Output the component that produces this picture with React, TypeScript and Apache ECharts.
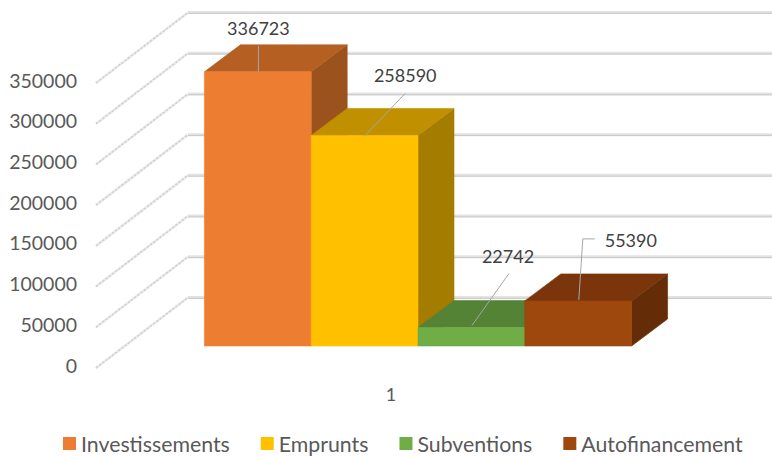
import React, { useEffect, useRef } from "react";
import * as echarts from "echarts";

const categories = ["1"];
const seriesNames = ["Investissements", "Emprunts", "Subventions", "Autofinancement"];
const seriesValues = [336723, 258590, 22742, 55390];
const yTicks = [0, 50000, 100000, 150000, 200000, 250000, 300000, 350000];

const frontColors = ["#ed7d31", "#ffc000", "#70ad47", "#9e480e"];
const topColors = ["#b55f22", "#c09000", "#558335", "#7a360a"];
const sideColors = ["#9c521d", "#a47c00", "#4a722e", "#652d07"];

// Leader-line and label placement, relative to the bar's top-front-left corner.
const labelOffsets = [
  { text: [54, -44], line: [[54, -26], [54, 0]] },
  { text: [94, -60], line: [[94, -42], [53, 1]] },
  { text: [90, -71], line: [[91, -54], [54, -2]] },
  { text: [106, -61], line: [[70, -62], [58, -62], [54, -1]] },
];

const WALL_DX = 92;
const WALL_DY = -70.5;
const BAR_DX = 36;
const BAR_DY = -27;
const BAR_SHIFT_X = 27;
const BAR_SHIFT_Y = -22;
const BAR_FRACTION = 0.181;

const poly = (points: number[][], fill: string, stroke?: string) => ({
  type: "polygon",
  shape: { points },
  style: { fill, stroke: stroke ?? fill, lineWidth: 0.6 },
});

const wallSeries = {
  type: "custom",
  name: "walls",
  silent: true,
  legendHoverLink: false,
  data: yTicks.map((t) => [0, t]),
  encode: { x: 0, y: 1 },
  z: 1,
  renderItem: (params: any, api: any) => {
    const [, y] = api.coord([0, api.value(1)]);
    const left = params.coordSys.x;
    const right = left + params.coordSys.width;
    const bx = left + WALL_DX;
    const by = y + WALL_DY;
    const seg = (x1: number, y1: number, x2: number, y2: number, stroke: string, lineWidth: number, lineDash?: number[]) => ({
      type: "line",
      shape: { x1, y1, x2, y2 },
      style: { stroke, lineWidth, lineDash },
    });
    return {
      type: "group",
      children: [
        seg(left, y, bx, by, "#ececec", 2.6),
        seg(left, y, bx, by, "#d2d2d2", 1.6, [2.5, 1.5]),
        seg(bx, by, right + WALL_DX, by, "#e3e3e3", 3),
        seg(bx, by + 0.8, right + WALL_DX, by + 0.8, "#c9c9c9", 1),
      ],
    };
  },
};

const barSeries = seriesNames.map((name, i) => ({
  type: "custom",
  name,
  itemStyle: { color: frontColors[i] },
  data: [[0, seriesValues[i]]],
  encode: { x: 0, y: 1 },
  z: 2 + i,
  renderItem: (_params: any, api: any) => {
    const [cx, yTop] = api.coord([0, api.value(1)]);
    const [, yBase] = api.coord([0, 0]);
    const band = api.size([1, 0])[0];
    const w = band * BAR_FRACTION;
    const x0 = cx + BAR_SHIFT_X + (i - 2) * w;
    const x1 = x0 + w;
    const yT = yTop + BAR_SHIFT_Y;
    const yB = yBase + BAR_SHIFT_Y;
    const off = labelOffsets[i];
    const children: any[] = [
      poly([[x1, yT], [x1 + BAR_DX, yT + BAR_DY], [x1 + BAR_DX, yB + BAR_DY], [x1, yB]], sideColors[i]),
      poly([[x0, yT], [x0 + BAR_DX, yT + BAR_DY], [x1 + BAR_DX, yT + BAR_DY], [x1, yT]], topColors[i]),
      poly([[x0, yT], [x1, yT], [x1, yB], [x0, yB]], frontColors[i]),
      {
        type: "polyline",
        shape: { points: off.line.map(([dx, dy]) => [x0 + dx, yT + dy]) },
        style: { stroke: "#a6a6a6", lineWidth: 1, fill: "none" },
      },
      {
        type: "text",
        x: x0 + off.text[0],
        y: yT + off.text[1],
        style: {
          text: String(api.value(1)),
          fill: "#404040",
          font: "18px Lato",
          align: "center",
          verticalAlign: "middle",
        },
      },
    ];
    return { type: "group", children };
  },
}));

export default function App() {
  const ref = useRef<HTMLDivElement>(null);
  useEffect(() => {
    const chart = echarts.init(ref.current!, undefined, { renderer: "svg" });
    chart.setOption({
      animation: false,
      backgroundColor: "#ffffff",
      textStyle: { fontFamily: "Lato" },
      grid: { left: 96, top: 83, width: 590, height: 285, containLabel: false },
      xAxis: {
        type: "category",
        data: categories,
        axisLine: { show: false },
        axisTick: { show: false },
        splitLine: { show: false },
        axisLabel: { color: "#595959", fontSize: 18, fontFamily: "Lato", margin: 17 },
      },
      yAxis: {
        type: "value",
        min: 0,
        max: 350000,
        interval: 50000,
        axisLine: { show: false },
        axisTick: { show: false },
        splitLine: { show: false },
        axisLabel: {
          color: "#595959",
          fontSize: 19.5,
          fontFamily: "Lato",
          margin: 19,
          verticalAlign: "bottom",
          lineHeight: 6,
          formatter: (v: number) => String(v),
        },
      },
      legend: {
        data: seriesNames,
        left: 63,
        top: 433,
        padding: 0,
        itemWidth: 13,
        itemHeight: 13,
        itemGap: 31,
        icon: "rect",
        textStyle: { color: "#595959", fontSize: 21.3, fontFamily: "Lato" },
      },
      series: [wallSeries, ...barSeries],
    });
    return () => chart.dispose();
  }, []);
  return (
    <div
      ref={ref}
      style={{ position: "absolute", left: 0, top: 0, width: 772, height: 456 }}
    />
  );
}
